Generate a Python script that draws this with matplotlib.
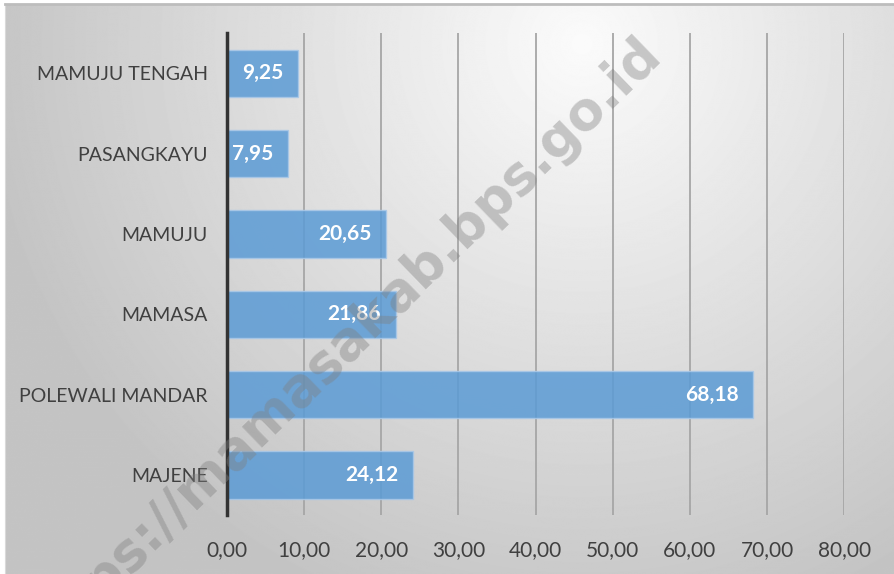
import matplotlib
matplotlib.use("Agg")
import matplotlib.pyplot as plt
import numpy as np

# Data
categories = ["MAJENE", "POLEWALI MANDAR", "MAMASA", "MAMUJU", "PASANGKAYU", "MAMUJU TENGAH"]
values = [24.12, 68.18, 21.86, 20.65, 7.95, 9.25]
value_labels = ["24,12", "68,18", "21,86", "20,65", "7,95", "9,25"]
xticks = [0, 10, 20, 30, 40, 50, 60, 70, 80]
xtick_labels = ["0,00", "10,00", "20,00", "30,00", "40,00", "50,00", "60,00", "70,00", "80,00"]

W, H = 894, 574
fig = plt.figure(figsize=(W / 100, H / 100), dpi=100)
fig.patch.set_facecolor("white")

# Gradient background for the chart area
bg = fig.add_axes([5 / W, 0, 1 - 5 / W, 1 - 4 / H], zorder=-2)
yy, xx = np.mgrid[0:H, 0:W]
d = np.sqrt(((xx - 580) / 600.0) ** 2 + ((yy - 40) / 600.0) ** 2)
gray = np.clip(251 - 55 * d, 196, 251) / 255.0
bg.imshow(gray, cmap="gray", vmin=0, vmax=1, aspect="auto", interpolation="bilinear")
bg.set_xticks([])
bg.set_yticks([])
for side in ["right", "bottom"]:
    bg.spines[side].set_visible(False)
bg.spines["top"].set_color("#bdbdbd")
bg.spines["top"].set_linewidth(2)
bg.spines["left"].set_color("#d9d9d9")

ax = fig.add_axes([227 / W, 1 - 515 / H, (844.3 - 227) / W, (515 - 33.3) / H])
ax.patch.set_alpha(0)

y = np.arange(len(categories))
ax.barh(y, values, height=0.59, color="#5b9bd5", alpha=0.85,
        edgecolor="#a9c8e8", linewidth=1, zorder=2)

for yi, v, lab in zip(y, values, value_labels):
    ax.text(v - 1.9, yi, lab, ha="right", va="center", color="white",
            fontsize=15, fontweight="bold", family=["Lato", "DejaVu Sans"], zorder=4)

ax.set_xlim(0, 80)
ax.set_ylim(-0.5, len(categories) - 0.5)
ax.set_xticks(xticks)
ax.set_xticklabels(xtick_labels)
ax.set_yticks(y)
ax.set_yticklabels(categories)
ax.grid(axis="x", color="#a6a6a6", linewidth=1.3, zorder=1)
ax.set_axisbelow(True)
for side in ["top", "right", "bottom"]:
    ax.spines[side].set_visible(False)
ax.spines["left"].set_color("#333333")
ax.spines["left"].set_linewidth(2.5)
ax.spines["left"].set_zorder(3)
ax.tick_params(axis="both", length=0, colors="#404040")
ax.tick_params(axis="y", pad=14, labelsize=14)
ax.tick_params(axis="x", pad=18, labelsize=15)
for t in ax.get_xticklabels() + ax.get_yticklabels():
    t.set_family(["Lato", "DejaVu Sans"])

# Watermark
fig.text(663 / W, 1 - 56 / H, "https://mamasakab.bps.go.id", rotation=44,
         rotation_mode="anchor", ha="right", va="baseline", fontsize=38,
         fontweight="bold", color="#7f7f7f", alpha=0.4, zorder=10,
         family=["DejaVu Sans"])

fig.savefig("out.png", dpi=100)
